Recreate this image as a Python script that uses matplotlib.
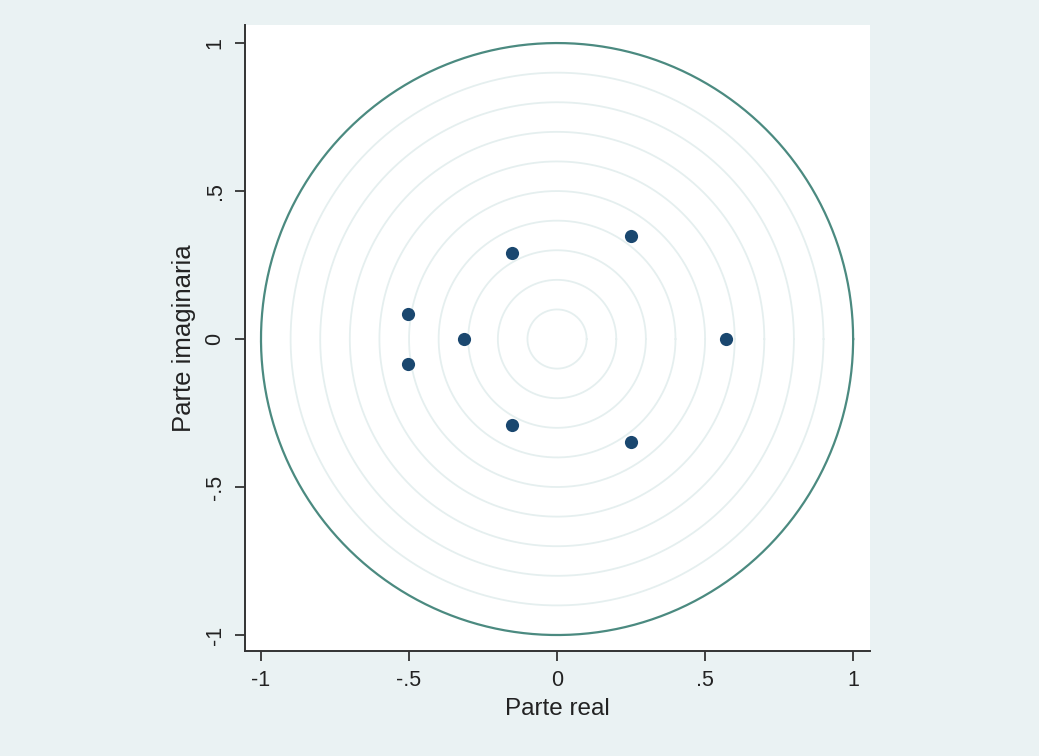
import numpy as np
import matplotlib.pyplot as plt

plt.rcParams['font.family'] = ['Liberation Sans', 'DejaVu Sans']

# autovalores (parte real, parte imaginaria)
re = [0.571, 0.25, 0.25, -0.152, -0.152, -0.503, -0.503, -0.314]
im = [0.0, 0.348, -0.348, 0.29, -0.29, 0.084, -0.084, 0.0]
radios = [0.1, 0.2, 0.3, 0.4, 0.5, 0.6, 0.7, 0.8, 0.9]
ticks = [-1, -0.5, 0, 0.5, 1]
tick_labels = ["-1", "-.5", "0", ".5", "1"]

bg = "#EAF2F3"
fig = plt.figure(figsize=(10.39, 7.56), dpi=100, facecolor=bg)
ax = fig.add_axes([245/1039, 1-651/756, 625/1039, 626/756])

t = np.linspace(0, 2*np.pi, 400)
for r in radios:
    ax.plot(r*np.cos(t), r*np.sin(t), color="#E5EFEF", lw=1.3, zorder=1)
ax.plot(np.cos(t), np.sin(t), color="#4B8A80", lw=1.6, zorder=2)
ax.scatter(re, im, s=90, color="#1A476F", zorder=3, linewidths=0)

ax.set_xlim(-1.054, 1.057)
ax.set_ylim(-1.054, 1.061)
ax.set_xticks(ticks)
ax.set_xticklabels(tick_labels)
ax.set_yticks(ticks)
ax.set_yticklabels(tick_labels, rotation=90, va="center")
for s in ["top", "right"]:
    ax.spines[s].set_visible(False)
for s in ["left", "bottom"]:
    ax.spines[s].set_color("#333333")
    ax.spines[s].set_linewidth(1.4)
ax.tick_params(direction="out", length=7, width=1.3, color="#333333",
               labelcolor="#222222", labelsize=15.5, pad=7)
ax.set_xlabel("Parte real", fontsize=17.5, labelpad=5, color="#222222")
ax.set_ylabel("Parte imaginaria", fontsize=18.5, labelpad=6, color="#222222")

fig.savefig("out.png", dpi=100, facecolor=bg)
